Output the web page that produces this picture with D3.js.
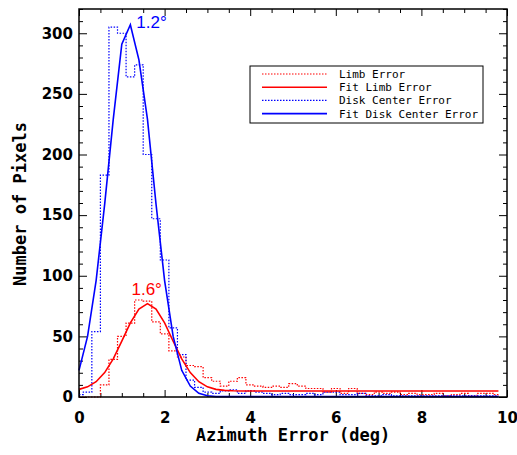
<!DOCTYPE html>
<html>
<head>
<meta charset="utf-8">
<script src="https://cdn.jsdelivr.net/npm/d3@7"></script>
<style>
body { margin: 0; background: #fff; }
</style>
</head>
<body>
<div class="canvas"></div>
<script>
// bin centres (deg) shared by both histograms and both fits
const binCenters = [0.0, 0.2, 0.4, 0.6, 0.8, 1.0, 1.2, 1.4, 1.6, 1.8,
                    2.0, 2.2, 2.4, 2.6, 2.8, 3.0, 3.2, 3.4, 3.6, 3.8,
                    4.0, 4.2, 4.4, 4.6, 4.8, 5.0, 5.2, 5.4, 5.6, 5.8,
                    6.0, 6.2, 6.4, 6.6, 6.8, 7.0, 7.2, 7.4, 7.6, 7.8,
                    8.0, 8.2, 8.4, 8.6, 8.8, 9.0, 9.2, 9.4, 9.6, 9.8]

const limbCounts = [0, 0, 0, 10, 31, 50, 61, 80, 79, 62,
                    52, 38, 33, 26, 25, 16, 13, 9, 13, 16,
                    10, 9, 8, 9, 8, 11, 9, 7, 7, 4,
                    7, 3, 7, 3, 2, 4, 3, 4, 2, 3,
                    2, 2, 3, 1, 2, 3, 1, 3, 3, 2]

const limbFit = [6.3, 8.4, 12.6, 20.1, 31.5, 46, 61.1, 72.6, 77, 72.6,
                 61.1, 46, 31.5, 20.1, 12.6, 8.4, 6.3, 5.5, 5.1, 5,
                 5, 5, 5, 5, 5, 5, 5, 5, 5, 5,
                 5, 5, 5, 5, 5, 5, 5, 5, 5, 5,
                 5, 5, 5, 5, 5, 5, 5, 5, 5, 5]

const diskCounts = [2, 4, 54, 183, 305, 300, 264, 274, 200, 147,
                    113, 57, 35, 14, 8, 4, 3, 5, 6, 3,
                    5, 4, 3, 2, 3, 2, 2, 3, 2, 4,
                    4, 2, 2, 3, 1, 1, 2, 1, 1, 1,
                    1, 1, 1, 1, 1, 1, 1, 1, 1, 1]

const diskFit = [22, 50, 96, 159, 229, 291, 307, 278, 229, 159,
                 96, 50, 22, 9, 3, 1, 0.3, 0.3, 0.3, 0.3,
                 0.3, 0.3, 0.3, 0.3, 0.3, 0.3, 0.3, 0.3, 0.3, 0.3,
                 0.3, 0.3, 0.3, 0.3, 0.3, 0.3, 0.3, 0.3, 0.3, 0.3,
                 0.3, 0.3, 0.3, 0.3, 0.3, 0.3, 0.3, 0.3, 0.3, 0.3]

const xTicks = [0, 2, 4, 6, 8, 10]
const yTicks = [0, 50, 100, 150, 200, 250, 300]

const peakLabels = [{text: '1.2°', x: 1.2, y: 307, color: 'blue', dx: 6, dy: 3},
                    {text: '1.6°', x: 1.6, y: 77, color: 'red', dx: -16, dy: -9}]

const svg = d3.select('.canvas')
              .append('svg')
              .attr('width', 517)
              .attr('height', 455)

svg.append('rect').attr('width', 517).attr('height', 455).attr('fill', 'white')

const x = d3.scaleLinear().domain([0, 10]).range([79, 507])
const y = d3.scaleLinear().domain([0, 320]).range([397, 9])

const xMinor = d3.range(0, 10.01, 0.5).filter(v => v % 2 !== 0)
const yMinor = d3.range(0, 321, 10).filter(v => v % 50 !== 0)

// axes: ticks point into the frame, on all four sides
const axisStyle = g => {
  g.select('.domain').remove()
  g.selectAll('line').attr('stroke', 'black').attr('stroke-width', 1)
  g.selectAll('text')
   .attr('font-family', 'DejaVu Sans')
   .attr('font-size', 15)
   .attr('font-weight', 'bold')
   .attr('fill', 'black')
}

svg.append('g').attr('transform', 'translate(0,397)')
   .call(d3.axisBottom(x).tickValues(xTicks).tickSize(-7).tickPadding(15).tickFormat(d3.format('d')))
   .call(axisStyle)
svg.append('g').attr('transform', 'translate(0,397)')
   .call(d3.axisBottom(x).tickValues(xMinor).tickSize(-4).tickFormat(''))
   .call(axisStyle)
svg.append('g').attr('transform', 'translate(0,9)')
   .call(d3.axisTop(x).tickValues(xTicks).tickSize(-7).tickFormat(''))
   .call(axisStyle)
svg.append('g').attr('transform', 'translate(0,9)')
   .call(d3.axisTop(x).tickValues(xMinor).tickSize(-4).tickFormat(''))
   .call(axisStyle)

svg.append('g').attr('transform', 'translate(79,0)')
   .call(d3.axisLeft(y).tickValues(yTicks).tickSize(-8).tickPadding(6))
   .call(axisStyle)
svg.append('g').attr('transform', 'translate(79,0)')
   .call(d3.axisLeft(y).tickValues(yMinor).tickSize(-4).tickFormat(''))
   .call(axisStyle)
svg.append('g').attr('transform', 'translate(507,0)')
   .call(d3.axisRight(y).tickValues(yTicks).tickSize(-8).tickFormat(''))
   .call(axisStyle)
svg.append('g').attr('transform', 'translate(507,0)')
   .call(d3.axisRight(y).tickValues(yMinor).tickSize(-4).tickFormat(''))
   .call(axisStyle)

// histograms (IDL psym=10 style) and fits
const stepLine = d3.line().curve(d3.curveStep).x(d => x(d[0])).y(d => y(d[1]))
const fitLine = d3.line().x(d => x(d[0])).y(d => y(d[1]))

// listed in legend order
const series = [
  {name: 'Limb Error', values: limbCounts, color: 'red', line: stepLine, dash: '1.5,1.5', width: 1.2, layer: 0},
  {name: 'Fit Limb Error', values: limbFit, color: 'red', line: fitLine, dash: null, width: 1.6, layer: 1},
  {name: 'Disk Center Error', values: diskCounts, color: 'blue', line: stepLine, dash: '1.5,1.5', width: 1.2, layer: 0},
  {name: 'Fit Disk Center Error', values: diskFit, color: 'blue', line: fitLine, dash: null, width: 1.6, layer: 1}
]

// histograms under the fits
series.slice().sort((a, b) => a.layer - b.layer).forEach(s => {
  svg.append('path')
     .attr('d', s.line(binCenters.map((c, i) => [c, s.values[i]])))
     .attr('fill', 'none')
     .attr('stroke', s.color)
     .attr('stroke-width', s.width)
     .attr('stroke-dasharray', s.dash)
})

// frame
svg.append('rect')
   .attr('x', 79).attr('y', 9)
   .attr('width', 428).attr('height', 388)
   .attr('fill', 'none')
   .attr('stroke', 'black')
   .attr('stroke-width', 1.5)

// peak labels
svg.selectAll('.peak').data(peakLabels).enter()
   .append('text')
   .attr('class', 'peak')
   .attr('x', d => x(d.x) + d.dx)
   .attr('y', d => y(d.y) + d.dy)
   .attr('fill', d => d.color)
   .attr('font-family', 'Liberation Sans')
   .attr('font-size', 17)
   .text(d => d.text)

// axis titles
svg.append('text')
   .attr('x', 293).attr('y', 441)
   .attr('text-anchor', 'middle')
   .attr('font-family', 'DejaVu Sans Mono')
   .attr('font-weight', 'bold')
   .attr('font-size', 17)
   .text('Azimuth Error (deg)')

svg.append('text')
   .attr('transform', 'translate(26,204) rotate(-90)')
   .attr('text-anchor', 'middle')
   .attr('font-family', 'DejaVu Sans Mono')
   .attr('font-weight', 'bold')
   .attr('font-size', 17)
   .text('Number of Pixels')

// legend
const legendGroup = svg.append('g').attr('transform', 'translate(250,66)')
legendGroup.append('rect')
   .attr('width', 233).attr('height', 57)
   .attr('fill', 'white')
   .attr('stroke', 'black')
   .attr('stroke-width', 1)

const legendRows = legendGroup.selectAll('g').data(series).enter()
   .append('g')
   .attr('transform', (d, i) => `translate(0,${8 + i * 13.2})`)

legendRows.append('line')
   .attr('x1', 12).attr('x2', 77)
   .attr('y1', 0).attr('y2', 0)
   .attr('stroke', d => d.color)
   .attr('stroke-width', d => d.width)
   .attr('stroke-dasharray', d => d.dash)

legendRows.append('text')
   .attr('x', 89).attr('y', 4)
   .attr('font-family', 'DejaVu Sans Mono')
   .attr('font-size', 11)
   .attr('fill', 'black')
   .text(d => d.name)
</script>
</body>
</html>
